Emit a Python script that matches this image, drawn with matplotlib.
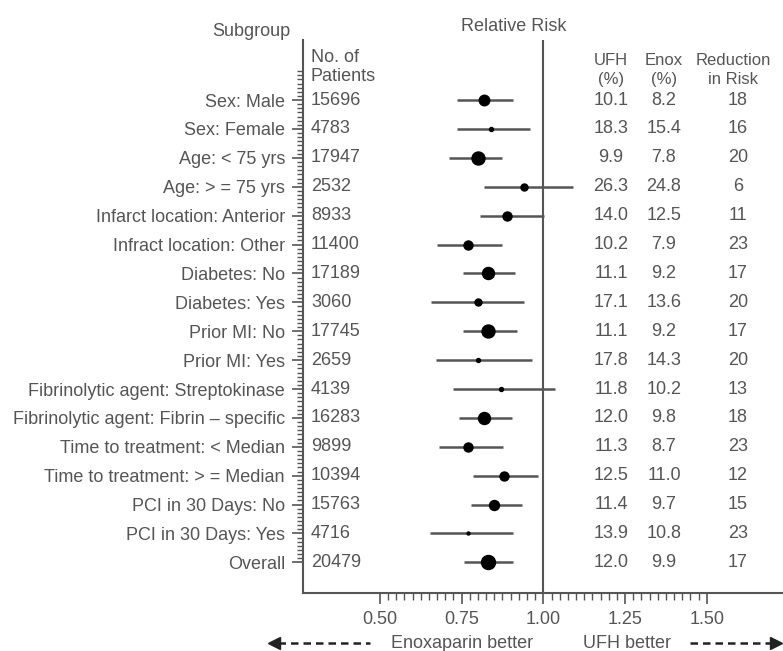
import numpy as np
import matplotlib
matplotlib.use('Agg')
from matplotlib import pyplot as plt
from matplotlib.ticker import FixedLocator
from matplotlib.lines import Line2D

''' Data read off the reference '''
subgroups = ['Sex: Male', 'Sex: Female', 'Age: < 75 yrs', 'Age: > = 75 yrs',
             'Infarct location: Anterior', 'Infract location: Other',
             'Diabetes: No', 'Diabetes: Yes', 'Prior MI: No', 'Prior MI: Yes',
             'Fibrinolytic agent: Streptokinase', 'Fibrinolytic agent: Fibrin \u2013 specific',
             'Time to treatment: < Median', 'Time to treatment: > = Median',
             'PCI in 30 Days: No', 'PCI in 30 Days: Yes', 'Overall']
patients = [15696, 4783, 17947, 2532, 8933, 11400, 17189, 3060, 17745, 2659,
            4139, 16283, 9899, 10394, 15763, 4716, 20479]
rr = [0.82, 0.84, 0.80, 0.94, 0.89, 0.77, 0.83, 0.80, 0.83, 0.80,
      0.87, 0.82, 0.77, 0.88, 0.85, 0.77, 0.83]
ci_low = [0.737, 0.737, 0.712, 0.82, 0.805, 0.676, 0.755, 0.657, 0.755, 0.673,
          0.725, 0.743, 0.68, 0.786, 0.78, 0.654, 0.758]
ci_high = [0.908, 0.96, 0.875, 1.09, 1.003, 0.875, 0.914, 0.94, 0.92, 0.966,
           1.037, 0.905, 0.878, 0.985, 0.936, 0.908, 0.908]
# relative box weight shown by the dot size
weight = [10.5, 4, 13, 7, 9, 9, 12, 7, 13, 4, 4, 12, 9, 9, 10, 3, 14]
ufh = ['10.1', '18.3', '9.9', '26.3', '14.0', '10.2', '11.1', '17.1', '11.1',
       '17.8', '11.8', '12.0', '11.3', '12.5', '11.4', '13.9', '12.0']
enox = ['8.2', '15.4', '7.8', '24.8', '12.5', '7.9', '9.2', '13.6', '9.2',
        '14.3', '10.2', '9.8', '8.7', '11.0', '9.7', '10.8', '9.9']
reduction = ['18', '16', '20', '6', '11', '23', '17', '20', '17', '20',
             '13', '18', '23', '12', '15', '23', '17']
xticks = [0.50, 0.75, 1.00, 1.25, 1.50]

plt.rcParams['font.family'] = ['Liberation Sans Narrow', 'Liberation Sans', 'DejaVu Sans']
grey = '#555555'
fs = 13

fig = plt.figure(figsize=(7.83, 6.51), dpi=100)
ax = fig.add_axes([303/783, 1-593/651, 480/783, (593-40)/651])

rows = np.arange(len(subgroups))

''' Forest plot marks '''
for i in rows:
    ax.plot([ci_low[i], ci_high[i]], [i, i], color=grey, lw=1.8, solid_capstyle='butt', zorder=2)
    ax.plot(rr[i], i, 'o', color='black', markersize=weight[i]*0.72, zorder=3)

ax.axvline(1.0, color=grey, lw=1.5, zorder=1)

ax.set_xlim(0.265, 1.733)
ax.set_ylim(17.06, -2.08)

for s in ['top', 'right']:
    ax.spines[s].set_visible(False)
for s in ['left', 'bottom']:
    ax.spines[s].set_color(grey)
    ax.spines[s].set_linewidth(1.5)

''' Ticks '''
ax.set_xticks(xticks)
ax.set_xticklabels(['%.2f' % t for t in xticks])
ax.xaxis.set_minor_locator(FixedLocator(np.arange(0.5, 1.5001, 0.025)))
ax.set_yticks(rows)
ax.set_yticklabels(subgroups)
ax.yaxis.set_minor_locator(FixedLocator(np.arange(-1, 16.001, 1/7.)))
ax.tick_params(axis='x', which='major', length=8, width=1.2, color=grey,
               labelsize=fs, labelcolor=grey, pad=5)
ax.tick_params(axis='x', which='minor', length=5, width=1, color=grey)
ax.tick_params(axis='y', which='major', length=8, width=1.2, color=grey,
               labelsize=fs, labelcolor=grey, pad=5)
ax.tick_params(axis='y', which='minor', length=4, width=1, color=grey)

''' Table columns '''
for i in rows:
    ax.text(0.289, i, str(patients[i]), ha='left', va='center', fontsize=fs, color=grey)
    ax.text(1.207, i, ufh[i], ha='center', va='center', fontsize=fs, color=grey)
    ax.text(1.369, i, enox[i], ha='center', va='center', fontsize=fs, color=grey)
    ax.text(1.595, i, reduction[i], ha='center', va='center', fontsize=fs, color=grey)

hfs = 12
ax.text(0.289, -1.15, 'No. of\nPatients', ha='left', va='center', fontsize=fs,
        color=grey, linespacing=1.2)
ax.text(1.207, -1.04, 'UFH\n(%)', ha='center', va='center', fontsize=hfs,
        color=grey, linespacing=1.3)
ax.text(1.369, -1.04, 'Enox\n(%)', ha='center', va='center', fontsize=hfs,
        color=grey, linespacing=1.3)
ax.text(1.580, -1.04, 'Reduction\nin Risk', ha='center', va='center', fontsize=hfs,
        color=grey, linespacing=1.3)
ax.text(0.91, -2.53, 'Relative Risk', ha='center', va='center', fontsize=fs,
        color=grey, clip_on=False)
fig.text(251/783, 1-32/651, 'Subgroup', ha='center', va='center', fontsize=fs, color=grey)

''' Bottom arrows '''
fig.text(533/783, 1-643/651, 'Enoxaparin better', ha='right', va='center', fontsize=fs, color=grey)
fig.text(583/783, 1-643/651, 'UFH better', ha='left', va='center', fontsize=fs, color=grey)
ya = 1-643/651
fig.add_artist(Line2D([278/783, 370/783], [ya, ya], color='#222222', lw=1.8, ls=(0, (3, 2))))
fig.add_artist(Line2D([274/783], [ya], marker='<', markersize=9, color='#222222'))
fig.add_artist(Line2D([690/783, 772/783], [ya, ya], color='#222222', lw=1.8, ls=(0, (3, 2))))
fig.add_artist(Line2D([776/783], [ya], marker='>', markersize=9, color='#222222'))

plt.savefig('out.png', dpi=100)
